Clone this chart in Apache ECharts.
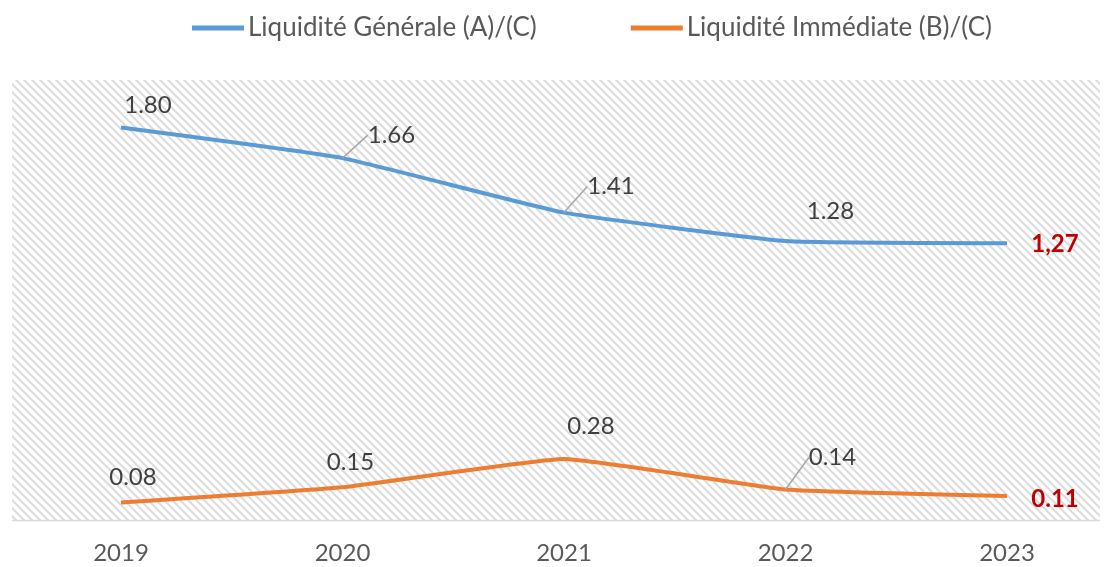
<!DOCTYPE html>
<html>
<head>
<meta charset="utf-8">
<script src="https://cdn.jsdelivr.net/npm/echarts@6/dist/echarts.min.js"></script>
<style>
  html, body { margin: 0; padding: 0; background: #fff; }
  #chart-container { width: 1107px; height: 567px; }
</style>
</head>
<body>
<div id="chart-container"></div>
<script>
var years = ['2019', '2020', '2021', '2022', '2023'];
var generale = [1.80, 1.66, 1.41, 1.28, 1.27];
var immediate = [0.08, 0.15, 0.28, 0.14, 0.11];
var lastLabels = ['1,27', '0.11'];
var seriesNames = ['Liquidité Générale (A)/(C)', 'Liquidité Immédiate (B)/(C)'];

// label shifts (px) for each point, like the moved labels in the original
var shiftGen = [[27, -5], [49, -6], [47, -9], [45, -13], [48, 18]];
var shiftImm = [[12, -8], [8, -8], [27, -16], [47, -15], [48, 20]];
// which labels keep a leader line
var leaderGen = [false, true, true, false, false];
var leaderImm = [false, false, false, true, false];

var dom = document.getElementById('chart-container');
var myChart = echarts.init(dom, null, { renderer: 'canvas' });

// hatched plot-area fill
var tile = document.createElement('canvas');
tile.width = 8;
tile.height = 8;
var ctx = tile.getContext('2d');
ctx.fillStyle = '#ffffff';
ctx.fillRect(0, 0, 8, 8);
ctx.strokeStyle = '#dcdcdc';
ctx.lineWidth = 2;
ctx.beginPath();
ctx.moveTo(-2, -2); ctx.lineTo(10, 10);
ctx.moveTo(-2, 6); ctx.lineTo(2, 10);
ctx.moveTo(6, -2); ctx.lineTo(10, 2);
ctx.stroke();

function makeData(values, last, leaders) {
  return values.map(function (v, i) {
    var d = { value: v, labelLine: { show: leaders[i] } };
    if (i === values.length - 1) {
      d.label = { fontWeight: 'bold', color: '#c00000', formatter: last };
    }
    return d;
  });
}

function layoutFor(shifts) {
  return function (params) {
    var s = shifts[params.dataIndex];
    return { dx: s[0], dy: s[1] };
  };
}

function valueLabel() {
  return {
    show: true,
    position: 'top',
    fontFamily: 'Lato',
    fontSize: 24,
    color: '#404040',
    formatter: function (p) { return p.value.toFixed(2); }
  };
}

var option = {
  animation: false,
  textStyle: { fontFamily: 'Lato' },
  legend: {
    top: 10,
    left: 187,
    itemGap: 94,
    itemWidth: 52,
    itemHeight: 5,
    icon: 'rect',
    textStyle: { fontFamily: 'Lato', fontSize: 26, color: '#595959', padding: [0, 0, 0, -1] },
    data: seriesNames
  },
  graphic: [
    {
      type: 'rect',
      z: -10,
      silent: true,
      shape: { x: 12, y: 80, width: 1088, height: 441 },
      style: { fill: { image: tile, repeat: 'repeat' } }
    },
    {
      type: 'line',
      z: -9,
      silent: true,
      shape: { x1: 12, y1: 520.5, x2: 1100, y2: 520.5 },
      style: { stroke: '#d9d9d9', lineWidth: 1.5 }
    }
  ],
  grid: { left: 121, right: 100, top: 84, bottom: 47 },
  xAxis: {
    type: 'category',
    data: years,
    boundaryGap: false,
    axisLine: { show: false },
    axisTick: { show: false },
    axisLabel: { fontFamily: 'Lato', fontSize: 24, color: '#595959', margin: 21 }
  },
  yAxis: {
    type: 'value',
    min: 0,
    max: 2,
    show: false,
    splitLine: { show: false }
  },
  series: [
    {
      name: seriesNames[0],
      type: 'line',
      smooth: 0.12,
      symbol: 'circle',
      symbolSize: 0,
      showSymbol: true,
      lineStyle: { width: 4, color: '#5b9bd5' },
      itemStyle: { color: '#5b9bd5' },
      label: valueLabel(),
      labelLine: { smooth: false, lineStyle: { color: '#a6a6a6', width: 1.5 } },
      labelLayout: layoutFor(shiftGen),
      data: makeData(generale, lastLabels[0], leaderGen)
    },
    {
      name: seriesNames[1],
      type: 'line',
      smooth: 0.12,
      symbol: 'circle',
      symbolSize: 0,
      showSymbol: true,
      lineStyle: { width: 4, color: '#ed7d31' },
      itemStyle: { color: '#ed7d31' },
      label: valueLabel(),
      labelLine: { smooth: false, lineStyle: { color: '#a6a6a6', width: 1.5 } },
      labelLayout: layoutFor(shiftImm),
      data: makeData(immediate, lastLabels[1], leaderImm)
    }
  ]
};

myChart.setOption(option);
window.addEventListener('resize', myChart.resize);
</script>
</body>
</html>
